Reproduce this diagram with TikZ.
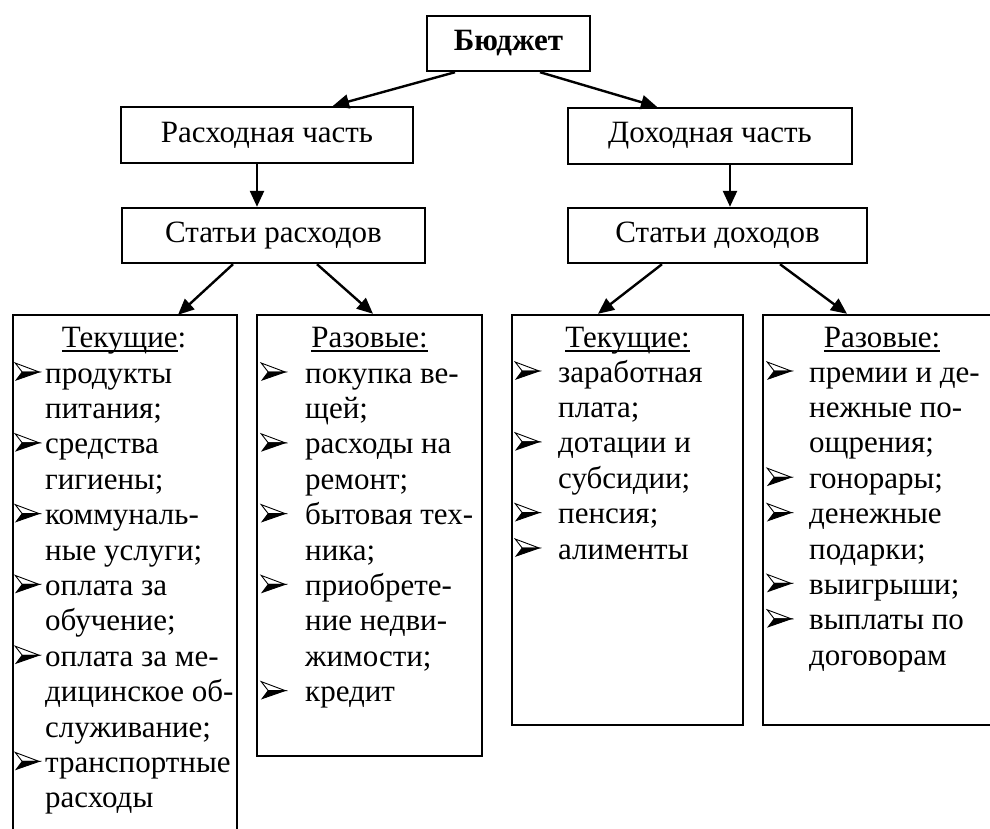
\documentclass[tikz,border=0pt]{standalone}
\usepackage{fontspec}
\setmainfont{Liberation Serif}
\usetikzlibrary{arrows.meta}
\newcommand\bul{\tikz[x=1pt,y=1pt,baseline=0pt]{%
  \path[use as bounding box] (0,0) rectangle (24,20);
  \filldraw[line width=0.9pt, fill=white, line join=miter] (0,20) -- (24,11) -- (7,11) -- cycle;
  \filldraw[line width=0.9pt, line join=miter] (7,11) -- (24,11) -- (1,3) -- cycle;}}
\newcommand\ulx[1]{\setbox0\hbox{#1}\rlap{\rule[-4.5pt]{\wd0}{1.6pt}}\box0}
\begin{document}
\begin{tikzpicture}[x=1pt,y=-1pt,
  box/.style={draw, line width=2.4pt, rectangle, inner sep=0pt},
  arr/.style={line width=2.4pt, -{Triangle[length=16pt,width=14pt]}},
  every node/.style={font=\fontsize{31}{35.4}\selectfont},
  lst/.style={anchor=base west, inner sep=0pt},
  hd/.style={anchor=base, inner sep=0pt}]
\useasboundingbox (0,0) rectangle (990,828);
\clip (0,0) rectangle (990,828);
% top level boxes
\node[box, minimum width=163pt, minimum height=55pt, font=\fontsize{31}{35.4}\selectfont\bfseries] (bud) at (508.5,43.5) {Бюджет};
\node[box, minimum width=292pt, minimum height=56pt] (rash) at (267,135) {Расходная часть};
\node[box, minimum width=284pt, minimum height=56pt] (doh) at (710,136) {Доходная часть};
\node[box, minimum width=303pt, minimum height=55pt] (strash) at (273.5,235.5) {Статьи расходов};
\node[box, minimum width=299pt, minimum height=55pt] (stdoh) at (717.5,235.5) {Статьи доходов};
% lower boxes
\node[inner sep=0pt, minimum width=224pt, minimum height=535pt] (lt) at (125,582.5) {};
\draw[line width=2.4pt] (lt.south west) -- (lt.north west) -- (lt.north east) -- (lt.south east);
\node[box, minimum width=225pt, minimum height=441pt] (lr) at (369.5,535.5) {};
\node[box, minimum width=231pt, minimum height=410pt] (rt) at (627.5,520) {};
\node[box, minimum width=238pt, minimum height=410pt] (rr) at (882,520) {};
% headings
\node[hd] (lth) at (124,347) {\ulx{Текущие}:};
\node[hd] (lrh) at (369.5,347) {\ulx{Разовые:}};
\node[hd] (rth) at (627.5,347) {\ulx{Текущие:}};
\node[hd] (rrh) at (882,347) {\ulx{Разовые:}};
% lists
\node[lst] (ltl) at (15,383) {\begin{tabular}[t]{@{}p{30pt}@{}l@{}}
\bul & продукты\\
 & питания;\\
\bul & средства\\
 & гигиены;\\
\bul & коммуналь-\\
 & ные услуги;\\
\bul & оплата за\\
 & обучение;\\
\bul & оплата за ме-\\
 & дицинское об-\\
 & служивание;\\
\bul & транспортные\\
 & расходы
\end{tabular}};
\node[lst] (lrl) at (261,383) {\begin{tabular}[t]{@{}p{44pt}@{}l@{}}
\bul & покупка ве-\\
 & щей;\\
\bul & расходы на\\
 & ремонт;\\
\bul & бытовая тех-\\
 & ника;\\
\bul & приобрете-\\
 & ние недви-\\
 & жимости;\\
\bul & кредит
\end{tabular}};
\node[lst] (rtl) at (515,382) {\begin{tabular}[t]{@{}p{43pt}@{}l@{}}
\bul & заработная\\
 & плата;\\
\bul & дотации и\\
 & субсидии;\\
\bul & пенсия;\\
\bul & алименты
\end{tabular}};
\node[lst] (rrl) at (767,382) {\begin{tabular}[t]{@{}p{42pt}@{}l@{}}
\bul & премии и де-\\
 & нежные по-\\
 & ощрения;\\
\bul & гонорары;\\
\bul & денежные\\
 & подарки;\\
\bul & выигрыши;\\
\bul & выплаты по\\
 & договорам
\end{tabular}};
% arrows
\draw[arr] ([xshift=-53.5pt]bud.south) -- ([xshift=66pt]rash.north);
\draw[arr] ([xshift=31.5pt]bud.south) -- ([xshift=-53pt]doh.north);
\draw[arr] ([xshift=-10pt]rash.south) -- ([xshift=-10pt]rash.south |- strash.north);
\draw[arr] ([xshift=20pt]doh.south) -- ([xshift=20pt]doh.south |- stdoh.north);
\draw[arr] ([xshift=-40.5pt]strash.south) -- ([xshift=53pt]lt.north);
\draw[arr] ([xshift=43.5pt]strash.south) -- ([xshift=3.5pt]lr.north);
\draw[arr] ([xshift=-55.5pt]stdoh.south) -- ([xshift=-29.5pt]rt.north);
\draw[arr] ([xshift=62.5pt]stdoh.south) -- ([xshift=-35pt]rr.north);
\end{tikzpicture}
\end{document}
